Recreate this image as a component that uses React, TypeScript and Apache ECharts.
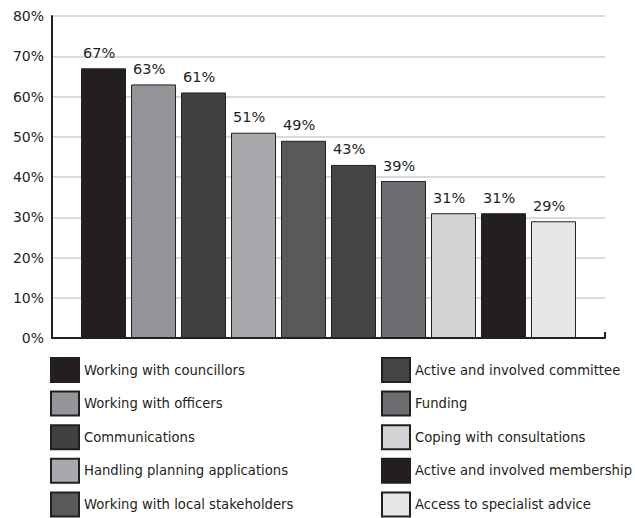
import React, { useEffect, useRef } from "react";
import * as echarts from "echarts";

const leftItems = [
  "Working with councillors",
  "Working with officers",
  "Communications",
  "Handling planning applications",
  "Working with local stakeholders",
];
const rightItems = [
  "Active and involved committee",
  "Funding",
  "Coping with consultations",
  "Active and involved membership",
  "Access to specialist advice",
];
const seriesNames = [...leftItems, ...rightItems];
const seriesValues = [67, 63, 61, 51, 49, 43, 39, 31, 31, 29];
const seriesColors = [
  "#231f20",
  "#939598",
  "#414042",
  "#a7a9ac",
  "#58595b",
  "#444446",
  "#6d6e71",
  "#d1d3d4",
  "#231f20",
  "#e6e7e8",
];
const yTicks = { min: 0, max: 80, interval: 10 };

const FONT = "DejaVu Sans";
const TEXT = "#231f20";

export default function App() {
  const ref = useRef<HTMLDivElement>(null);
  useEffect(() => {
    if (!ref.current) return;
    const chart = echarts.init(ref.current, null, { renderer: "svg" });
    const legendCommon = {
      orient: "vertical" as const,
      itemWidth: 28,
      itemHeight: 24,
      itemGap: 7.6,
      icon: "rect",
      padding: 0,
      height: 170,
      textStyle: { fontFamily: FONT, fontSize: 13.2, color: TEXT },
      top: 357,
    };
    chart.setOption({
      animation: false,
      textStyle: { fontFamily: FONT },
      grid: { left: 52, right: 30, top: 16, bottom: 180 },
      legend: [
        { ...legendCommon, left: 50, data: leftItems },
        { ...legendCommon, left: 381, data: rightItems },
      ],
      xAxis: {
        type: "category",
        data: [""],
        axisLine: { lineStyle: { color: TEXT, width: 2 } },
        axisTick: { show: true, inside: true, length: 6, lineStyle: { color: TEXT, width: 2 } },
        axisLabel: { show: false },
      },
      yAxis: {
        type: "value",
        min: yTicks.min,
        max: yTicks.max,
        interval: yTicks.interval,
        axisLine: { show: true, lineStyle: { color: TEXT, width: 2 } },
        axisTick: { show: false },
        axisLabel: {
          formatter: "{value}%",
          fontFamily: FONT,
          fontSize: 14,
          color: TEXT,
          margin: 8,
        },
        splitLine: { lineStyle: { color: "#d9dadb", width: 2 } },
      },
      series: seriesNames.map((name, i) => ({
        name,
        type: "bar",
        data: [seriesValues[i]],
        barWidth: 45,
        barGap: "11.1%",
        itemStyle: { color: seriesColors[i], borderColor: TEXT, borderWidth: 1 },
        label: {
          show: true,
          position: [2, -8],
          align: "left",
          verticalAlign: "bottom",
          formatter: "{c}%",
          fontFamily: FONT,
          fontSize: 14.5,
          color: TEXT,
        },
      })),
    });
    return () => chart.dispose();
  }, []);
  return <div ref={ref} style={{ width: 635, height: 518, position: "absolute", left: 0, top: 0 }} />;
}
